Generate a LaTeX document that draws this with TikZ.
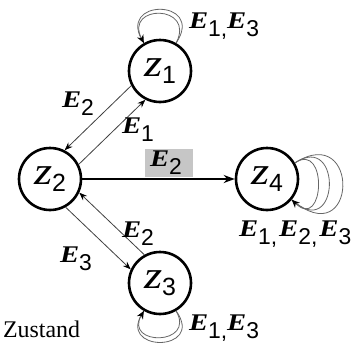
\documentclass[tikz,border=0pt]{standalone}
\usepackage{fontspec}
\setmainfont{Liberation Serif}
\newfontfamily\efont[FakeStretch=1.2]{Liberation Serif}
\newfontfamily\dfont{Liberation Sans}
\usetikzlibrary{arrows.meta}
\newcommand\Ee[1]{{\efont\bfseries\itshape\fontsize{24}{24}\selectfont E}\raisebox{-8bp}{\dfont\fontsize{23}{23}\selectfont #1}}
\newcommand\Zz[1]{{\efont\itshape\fontsize{39}{39}\selectfont z}\raisebox{-7bp}{\dfont\fontsize{25}{25}\selectfont #1}}
\tikzset{
  state/.style={circle,draw=black,line width=2.6bp,minimum size=62bp,inner sep=0pt,fill=white},
  thinedge/.style={draw=black!75,line width=0.8bp,-{Stealth[length=8bp,width=6bp,black]}},
  loopline/.style={draw=black!60,line width=0.8bp},
  looparrow/.style={draw=black!60,line width=0.8bp,-{Stealth[length=8bp,width=7bp,black]}},
  thickedge/.style={draw=black,line width=2.6bp,-{Stealth[length=11bp,width=8bp]}},
  lab/.style={anchor=base west,inner sep=0pt,outer sep=0pt}
}
\begin{document}
\begin{tikzpicture}[x=1bp,y=-1bp]
\useasboundingbox (0,0) rectangle (357,349);
% gray box behind the label of the thick arrow
\fill[gray!45] (145,149) rectangle (193,177);
\node[state] (z1) at (160,71) {\Zz{1}};
\node[state] (z2) at (50,179) {\Zz{2}};
\node[state] (z3) at (160,283) {\Zz{3}};
\node[state] (z4) at (267,179) {\Zz{4}};
% edges
\draw[thinedge] (z1.207) -- (z2.63);
\draw[thinedge] (z2.27) -- (z1.243);
\draw[thinedge] (z3.119) -- (z2.335);
\draw[thinedge] (z2.299) -- (z3.155);
\draw[thickedge] (z2) -- (z4);
% loops at z1
\draw[loopline] (z1.60) .. controls +(30,-45) and +(-30,-45) .. (z1.120);
\draw[looparrow] (z1.60) .. controls +(20,-39) and +(-20,-39) .. (z1.120);
% loops at z3
\draw[loopline] (z3.-60) .. controls +(30,42) and +(-30,42) .. (z3.-120);
\draw[looparrow] (z3.-60) .. controls +(20,35) and +(-20,35) .. (z3.-120);
% loops at z4
\draw[loopline] (z4.30) .. controls +(66,-42) and +(66,56) .. (z4.-40);
\draw[loopline] (z4.30) .. controls +(48,-32) and +(48,44) .. (z4.-40);
\draw[looparrow] (z4.30) .. controls +(33,-22) and +(33,32) .. (z4.-40);
% labels
\node[lab] (l1) at (189,28) {\Ee{1,}\Ee{3}};
\node[lab] (l2) at (62,107) {\Ee{2}};
\node[lab] (l3) at (122,133) {\Ee{1}};
\node[lab] (l4) at (150,166) {\Ee{2}};
\node[lab] (l5) at (239,236) {\Ee{1,}\hspace{2bp}\Ee{2,}\hspace{2bp}\Ee{3}};
\node[lab] (l6) at (122,237) {\Ee{2}};
\node[lab] (l7) at (60,262) {\Ee{3}};
\node[lab] (l8) at (189,330) {\Ee{1,}\Ee{3}};
\node[lab] (zs) at (3,337) {\fontsize{24}{24}\selectfont Zustand};
\end{tikzpicture}
\end{document}
